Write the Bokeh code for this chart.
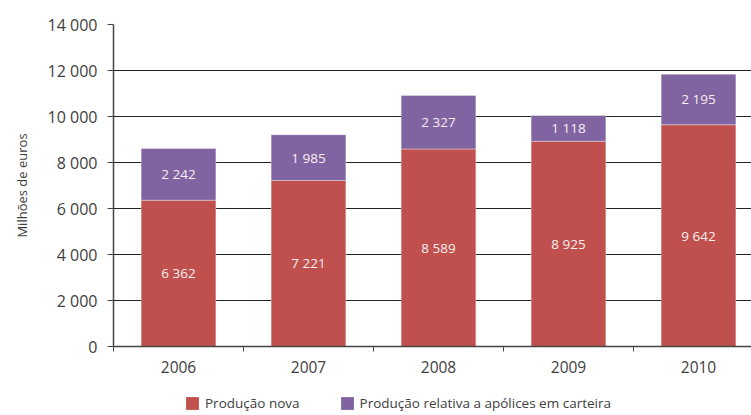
from bokeh.plotting import figure
from bokeh.layouts import column
from bokeh.models import ColumnDataSource, FixedTicker, Legend, LegendItem
from bokeh.core.properties import value
from bokeh.embed import file_html
from bokeh.resources import INLINE

years = ["2006", "2007", "2008", "2009", "2010"]
producao_nova = [6362, 7221, 8589, 8925, 9642]
producao_carteira = [2242, 1985, 2327, 1118, 2195]
y_ticks = [0, 2000, 4000, 6000, 8000, 10000, 12000, 14000]
y_tick_labels = ["0", "2 000", "4 000", "6 000", "8 000", "10 000", "12 000", "14 000"]
series_names = ["Produção nova", "Produção relativa a apólices em carteira"]

RED = "#C0504D"
PURPLE = "#8064A2"
FONT = "Open Sans"
TXT = "#404040"
BAR_W = 0.575

def fmt(v):
    return f"{v:,}".replace(",", " ")

centers = [i + 0.5 for i in range(len(years))]
tops = [a + b for a, b in zip(producao_nova, producao_carteira)]
src = ColumnDataSource(dict(
    x=centers, nova=producao_nova, cart=producao_carteira, top=tops,
    nova_mid=[v / 2 for v in producao_nova],
    cart_mid=[a + b / 2 for a, b in zip(producao_nova, producao_carteira)],
    nova_lbl=[fmt(v) for v in producao_nova],
    cart_lbl=[fmt(v) for v in producao_carteira],
))

p = figure(width=751, height=380, x_range=(0, (751 - 113) / 130), y_range=(0, 14000),
           output_backend="svg", toolbar_location=None,
           min_border_left=113, min_border_right=0, min_border_top=24, min_border_bottom=34)
p.outline_line_color = None
p.background_fill_color = "white"

r1 = p.vbar(x="x", bottom=0, top="nova", width=BAR_W, source=src, fill_color=RED,
            line_color="white", line_alpha=0.45, line_width=0.8)
r2 = p.vbar(x="x", bottom="nova", top="top", width=BAR_W, source=src, fill_color=PURPLE,
            line_color="white", line_alpha=0.45, line_width=0.8)

for col, lbl in (("nova_mid", "nova_lbl"), ("cart_mid", "cart_lbl")):
    p.text(x="x", y=col, text=lbl, source=src, text_color="#F7EFF0", text_align="center",
           text_baseline="middle", text_font=value(FONT), text_font_size="13.5px")

# y axis
p.yaxis.ticker = FixedTicker(ticks=y_ticks)
p.yaxis.major_label_overrides = dict(zip(y_ticks, y_tick_labels))
p.yaxis.major_tick_out = 6
p.yaxis.major_tick_in = 0
p.yaxis.minor_tick_line_color = None
p.yaxis.axis_line_color = "#444444"
p.yaxis.axis_line_width = 1.5
p.yaxis.major_tick_line_color = "#444444"
p.yaxis.major_label_text_font = FONT
p.yaxis.major_label_text_font_size = "16px"
p.yaxis.major_label_text_color = TXT
p.yaxis.major_label_standoff = 10
p.yaxis.axis_label = "Milhões de euros"
p.yaxis.axis_label_text_font = FONT
p.yaxis.axis_label_text_font_size = "13px"
p.yaxis.axis_label_text_font_style = "normal"
p.yaxis.axis_label_text_color = TXT
p.yaxis.axis_label_standoff = 14

# x axis
p.xaxis.ticker = FixedTicker(ticks=centers, minor_ticks=list(range(len(years) + 1)))
p.xaxis.major_label_overrides = dict(zip(centers, years))
p.xaxis.major_tick_line_color = None
p.xaxis.minor_tick_out = 5
p.xaxis.minor_tick_in = 0
p.xaxis.minor_tick_line_color = "#444444"
p.xaxis.axis_line_color = "#444444"
p.xaxis.axis_line_width = 1.5
p.xaxis.major_label_text_font = FONT
p.xaxis.major_label_text_font_size = "15.5px"
p.xaxis.major_label_text_color = TXT
p.xaxis.major_label_standoff = 8

p.xgrid.grid_line_color = None
p.ygrid.ticker = FixedTicker(ticks=y_ticks)
p.ygrid.grid_line_color = "#222222"
p.ygrid.grid_line_width = 1

# legend strip (frame is aligned with the main plot's frame by the column layout)
lg = figure(width=751, height=35, x_range=(0, 1), y_range=(0, 1),
            output_backend="svg", toolbar_location=None,
            min_border_left=113, min_border_right=0, min_border_top=0, min_border_bottom=0)
lg.axis.visible = False
lg.grid.visible = False
lg.outline_line_color = None
lg.background_fill_alpha = 0
lg.border_fill_alpha = 0
d1 = lg.vbar(x=[0.5], bottom=[0.5], top=[0.5], width=0, fill_color=RED, line_color=None)
d2 = lg.vbar(x=[0.5], bottom=[0.5], top=[0.5], width=0, fill_color=PURPLE, line_color=None)
legend = Legend(items=[LegendItem(label=series_names[0], renderers=[d1]),
                       LegendItem(label=series_names[1], renderers=[d2])],
                orientation="horizontal", location=(71, 3),
                border_line_color=None, background_fill_alpha=0,
                padding=0, margin=0, spacing=39, label_standoff=5,
                glyph_width=16, glyph_height=16,
                label_text_font=FONT, label_text_font_size="13.5px", label_text_color=TXT,
                label_height=16)
lg.add_layout(legend, "center")

layout = column(p, lg, spacing=0)
open("out.html", "w").write(file_html(layout, INLINE))
